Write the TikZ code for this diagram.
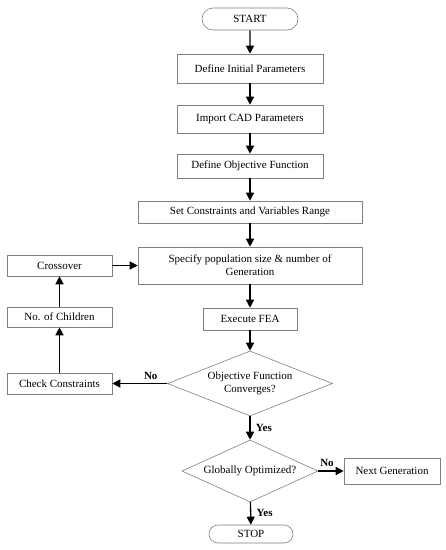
\documentclass[tikz,border=0pt]{standalone}
\usepackage{fontspec}
\setmainfont{Liberation Serif}
\usetikzlibrary{shapes.geometric,shapes.misc,arrows.meta}
\begin{document}
\begin{tikzpicture}[x=1pt,y=-1pt,
  box/.style={draw=black!50,line width=0.6pt,rectangle,minimum height=#1,inner sep=0pt,font=\fontsize{11}{13}\selectfont,align=center},
  box/.default=22pt,
  term/.style={draw=black!50,line width=0.6pt,rounded rectangle,inner sep=0pt,font=\fontsize{11}{13}\selectfont},
  dec/.style={draw=black!50,line width=0.6pt,diamond,aspect=2.5,inner sep=0pt,font=\fontsize{11}{13}\selectfont,align=center},
  arr/.style={-{Triangle[length=8pt,width=8pt]},line width=1.3pt},
  lab/.style={font=\bfseries\fontsize{11}{13}\selectfont}]
\useasboundingbox (0,0) rectangle (446,550);
\node[term,minimum width=96pt,minimum height=22pt] (start) at (250,19) {START};
\node[box=29pt,minimum width=146pt] (init) at (250,68.5) {Define Initial Parameters};
\node[box=28pt,minimum width=146pt] (cad) at (250,119) {Import CAD Parameters};
\node[box=24pt,minimum width=146pt] (obj) at (250,166) {Define Objective Function};
\node[box=22pt,minimum width=224pt] (cons) at (250,212) {Set Constraints and Variables Range};
\node[box=37pt,minimum width=224pt] (pop) at (250,265.5) {Specify population size \& number of\\Generation};
\node[box=22pt,minimum width=94pt] (fea) at (250,319) {Execute FEA};
\node[dec,minimum width=165pt,minimum height=65pt] (conv) at (250,383.5) {Objective Function\\Converges?};
\node[dec,minimum width=136pt,minimum height=62pt] (glob) at (250,471) {Globally Optimized?};
\node[box=26pt,minimum width=96pt] (next) at (392,471) {Next Generation};
\node[term,minimum width=84pt,minimum height=18pt] (stop) at (251,534) {STOP};
\node[box=21pt,minimum width=105pt] (cross) at (59.5,265.5) {Crossover};
\node[box=20pt,minimum width=105pt] (child) at (59.5,317) {No. of Children};
\node[box=21pt,minimum width=105pt] (check) at (59.5,383.5) {Check Constraints};
\draw[arr] (start) -- (init);
\draw[arr] (init) -- (cad);
\draw[arr] (cad) -- (obj);
\draw[arr] (obj) -- (cons);
\draw[arr] (cons) -- (pop);
\draw[arr] (pop) -- (fea);
\draw[arr] (fea) -- (conv);
\draw[arr] (conv) -- node[lab,right,xshift=2pt]{Yes} (glob);
\draw[arr] (glob) -- node[lab,right,xshift=2pt]{Yes} (stop);
\draw[arr] (glob.east) -- node[lab,above,xshift=-4pt]{No} (next);
\draw[arr] (conv.west) -- node[lab,above,pos=0.3]{No} (check);
\draw[arr] (check) -- (child);
\draw[arr] (child) -- (cross);
\draw[arr] (cross) -- (pop);
\end{tikzpicture}
\end{document}
